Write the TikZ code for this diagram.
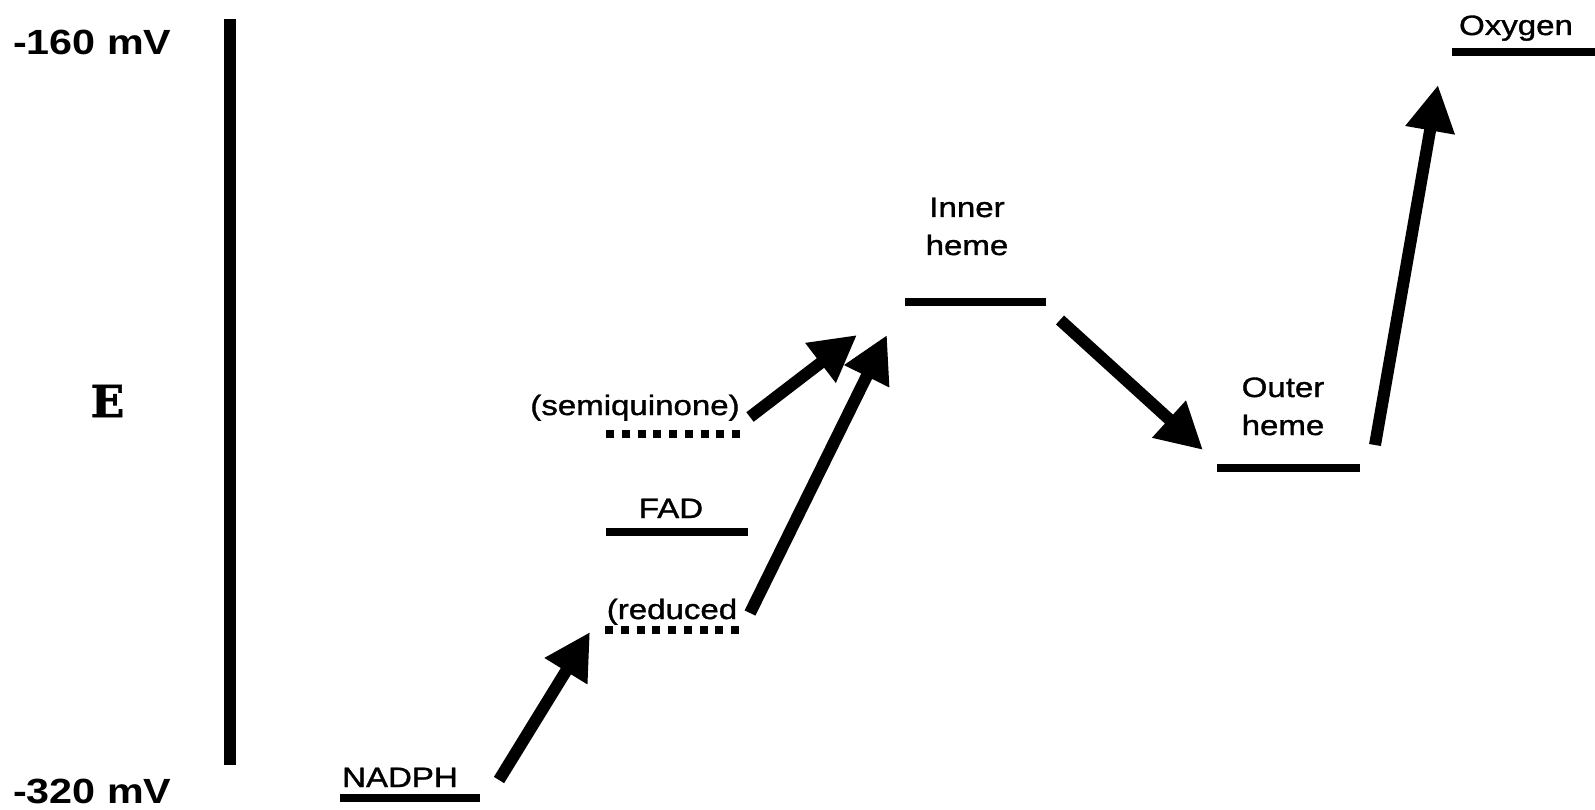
\documentclass[tikz,border=0pt]{standalone}
\usepackage{fontspec}
\setmainfont{Liberation Sans}[FakeStretch=1.18]
\newfontfamily\lblfont{Liberation Sans}[FakeStretch=1.18, FakeBold=1.2]
\newfontfamily\slabfont{DejaVu Serif}[FakeBold=1.5]
\usetikzlibrary{arrows.meta}

\tikzset{
  level/.style={line width=8.5pt},
  halflevel/.style={line width=8pt, dash pattern=on 8pt off 7.75pt},
  axisline/.style={line width=12pt},
  jump/.style={line width=12pt, -{Triangle[length=46pt,width=47pt]}},
  lbl/.style={inner sep=0pt, anchor=base, font=\lblfont\fontsize{28}{38}\selectfont},
  mvlbl/.style={inner sep=0pt, anchor=base west, font=\fontsize{35}{40}\selectfont\bfseries},
}

\begin{document}
\begin{tikzpicture}[x=1pt, y=-1pt]
\useasboundingbox (0,0) rectangle (1595,810);

% potential axis
\coordinate (axtop) at (230,19);
\coordinate (axbot) at (230,765);
\draw[axisline] (axtop) -- (axbot);
\node[mvlbl] (top) at (13,55) {-160 mV};
\node[mvlbl] (bottom) at (13,803) {-320 mV};
\node[inner sep=0pt, font=\slabfont\bfseries\fontsize{44}{44}\selectfont] (E) at (107.5,401) {E};

% energy levels
\draw[level] (340,798) coordinate (nadphL) -- (480,798) coordinate (nadphR);
\node[lbl] (nadph) at (400,787) {NADPH};

\draw[halflevel] (605,630) coordinate (redL) -- (742,630) coordinate (redR);
\node[lbl] (reduced) at (672,619) {(reduced};

\draw[level] (606,532) coordinate (fadL) -- (748,532) coordinate (fadR);
\node[lbl] (fad) at (671,518) {FAD};

\draw[halflevel] (606,434) coordinate (semiL) -- (742,434) coordinate (semiR);
\node[lbl] (semi) at (635,415) {(semiquinone)};

\draw[level] (905,302) coordinate (innerL) -- (1046,302) coordinate (innerR);
\node[lbl, align=center] (inner) at (967,255) {Inner\\heme};

\draw[level] (1217,468) coordinate (outerL) -- (1360,468) coordinate (outerR);
\node[lbl, align=center] (outer) at (1283,435) {Outer\\heme};

\draw[level] (1452,52) coordinate (oxL) -- (1595,52) coordinate (oxR);
\node[lbl] (oxygen) at (1516,35) {Oxygen};

% electron transfer steps
\coordinate (a1s) at (499,780);  \coordinate (a1e) at (590,632);
\coordinate (a2s) at (750,613);  \coordinate (a2e) at (887,335);
\coordinate (a3s) at (750,417);  \coordinate (a3e) at (857,335);
\coordinate (a4s) at (1060,320); \coordinate (a4e) at (1203,450);
\coordinate (a5s) at (1375,445); \coordinate (a5e) at (1438,85);
\draw[jump] (a1s) -- (a1e);
\draw[jump] (a2s) -- (a2e);
\draw[jump] (a3s) -- (a3e);
\draw[jump] (a4s) -- (a4e);
\draw[jump] (a5s) -- (a5e);
\end{tikzpicture}
\end{document}
